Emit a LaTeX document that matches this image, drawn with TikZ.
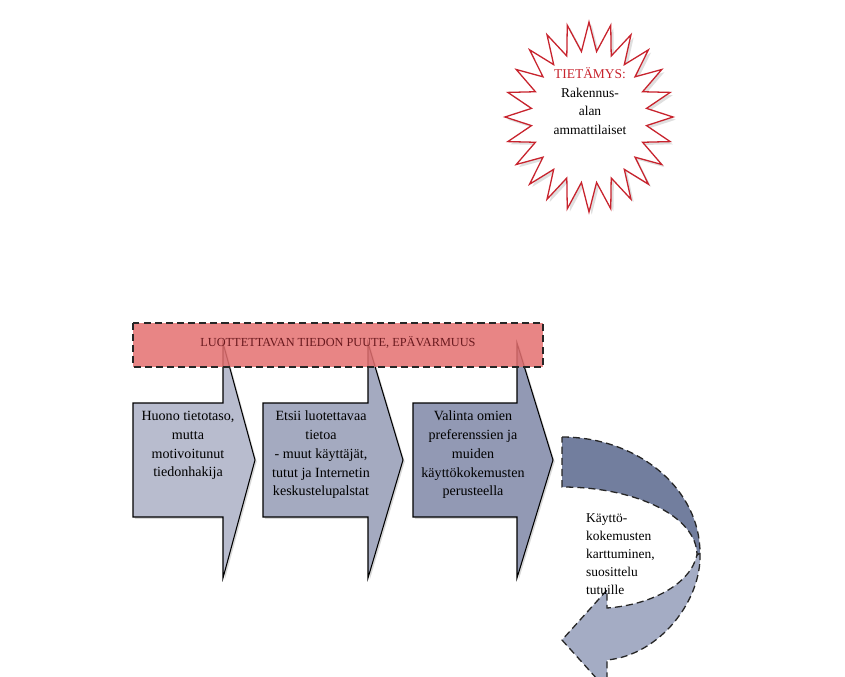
\documentclass[tikz,border=0pt]{standalone}
\usepackage{fontspec}
\setmainfont{Liberation Serif}
\usepackage{tikz}
\usetikzlibrary{positioning, shadows}

\definecolor{arrowA}{RGB}{184,188,206}
\definecolor{arrowB}{RGB}{164,170,192}
\definecolor{arrowC}{RGB}{146,153,180}
\definecolor{barred}{RGB}{228,112,112}
\definecolor{bartext}{RGB}{105,25,30}
\definecolor{starred}{RGB}{200,35,45}
\definecolor{bendtop}{RGB}{114,126,158}
\definecolor{bendlow}{RGB}{164,172,196}

\tikzset{
  stepshape/.style={draw=black, line width=0.9pt, drop shadow={opacity=0.3, shadow xshift=1.5pt, shadow yshift=-1.5pt}},
  steptext/.style={anchor=north, align=center, inner sep=0pt, font=\fontsize{12}{16}\selectfont},
  dashline/.style={draw=black!85, line width=1.1pt, dash pattern=on 6pt off 3.5pt},
}

\begin{document}
\begin{tikzpicture}[x=0.03cm, y=-0.03cm]
    \clip (0,0) rectangle (845,677);
    \fill[white] (0,0) rectangle (845,677);

    % star
    \draw[starred, line width=1.1pt, fill=white, drop shadow={opacity=0.25}]
      plot[samples at={0,...,47}, variable=\k]
      ({589+ifthenelse(mod(\k,2)==0,84,58)*cos(90+7.5*\k)}, {117-ifthenelse(mod(\k,2)==0,95,66)*sin(90+7.5*\k)}) -- cycle;
    \node (Star) at (590,101) [align=center, font=\fontsize{11.5}{16}\selectfont]
      {\textcolor{starred}{TIETÄMYS:}\\Rakennus-\\alan\\ammattilaiset};

    % steps
    \foreach \l/\b/\t/\c in {133/223/255/arrowA, 263/368/403/arrowB, 413/517/553/arrowC}
      \draw[stepshape, fill=\c] (\l,403) -- (\b,403) -- (\b,343) -- (\t,460) -- (\b,578) -- (\b,517) -- (\l,517) -- cycle;
    \node (Hakija) at (188,411) [steptext] {Huono tietotaso,\\mutta\\motivoitunut\\tiedonhakija};
    \node (Etsii) at (321,411) [steptext] {Etsii luotettavaa\\tietoa\\- muut käyttäjät,\\tutut ja Internetin\\keskustelupalstat};
    \node (Valinta) at (473,411) [steptext] {Valinta omien\\preferenssien ja\\muiden\\käyttökokemusten\\perusteella};

    % bar
    \draw[dashline, fill=barred, fill opacity=0.85] (133,323) rectangle (543,367);
    \node (Puute) at (338,342) [text=bartext, font=\fontsize{10.5}{12}\selectfont] {LUOTTETTAVAN TIEDON PUUTE, EPÄVARMUUS};

    % bent arrow
    \draw[dashline, fill=bendlow] (700,553) .. controls (702,600) and (660,655) .. (607,660) -- (607,690) -- (562,640) -- (607,590) -- (607,608) .. controls (650,605) and (690,585) .. (697,555) -- cycle;
    \draw[dashline, fill=bendtop] (562,437) .. controls (638,437) and (700,489) .. (700,553) -- (697,555) .. controls (697,517) and (637,487) .. (562,487) -- cycle;
    \node (Kertyma) at (586,513) [anchor=north west, align=left, inner sep=0pt, font=\fontsize{11.5}{15.5}\selectfont]
      {Käyttö-\\kokemusten\\karttuminen,\\suosittelu\\tutuille};
\end{tikzpicture}
\end{document}
